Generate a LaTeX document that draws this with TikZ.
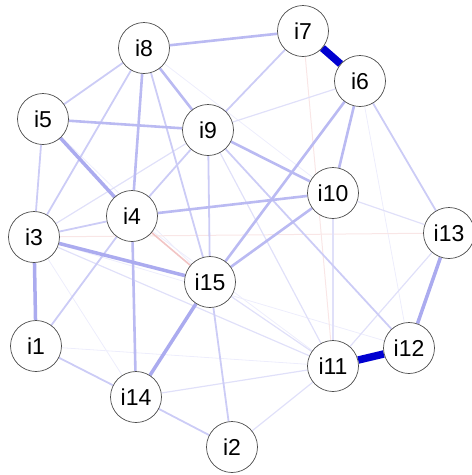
\documentclass[tikz,border=0pt]{standalone}
\usepackage{fontspec}
\setmainfont{Liberation Sans}
\usetikzlibrary{backgrounds}
\definecolor{posedge}{HTML}{0000D0}
\definecolor{negedge}{HTML}{D03030}

\begin{document}
\begin{tikzpicture}[x=1pt,y=-1pt,
  every node/.style={draw=black!70,circle,fill=white,line width=0.7pt,
    minimum size=51pt,inner sep=0pt,font=\fontsize{23}{26}\selectfont},
  vfaint/.style={draw=posedge!7,line width=0.8pt},
  faint/.style={draw=posedge!12,line width=1.2pt},
  light/.style={draw=posedge!20,line width=1.8pt},
  medium/.style={draw=posedge!27,line width=2.6pt},
  heavy/.style={draw=posedge!33,line width=3.5pt},
  strong/.style={draw=posedge,line width=7.5pt},
  negfaint/.style={draw=negedge!12,line width=1pt},
  neglight/.style={draw=negedge!28,line width=1.6pt}
]
\useasboundingbox (0,0) rectangle (472,475);
\node (i7) at (303,31) {i7};
\node (i6) at (360,81) {i6};
\node (i8) at (144,48) {i8};
\node (i5) at (43,119) {i5};
\node (i9) at (208,130) {i9};
\node (i10) at (333,193) {i10};
\node (i13) at (449,233) {i13};
\node (i3) at (34,237) {i3};
\node (i4) at (132,216) {i4};
\node (i15) at (210,282) {i15};
\node (i1) at (36,346) {i1};
\node (i12) at (409,348) {i12};
\node (i11) at (333,366) {i11};
\node (i14) at (136,397) {i14};
\node (i2) at (232,447) {i2};
\begin{scope}[on background layer]
% very weak ties
\draw[vfaint] (i3) -- (i14);
\draw[vfaint] (i6) -- (i12);
\draw[vfaint] (i5) -- (i15);
\draw[vfaint] (i8) -- (i10);
\draw[vfaint] (i4) -- (i11);
\draw[vfaint] (i1) -- (i11);
\draw[vfaint] (i3) -- (i12);
\draw[negfaint] (i7) -- (i11);
\draw[negfaint] (i3) -- (i13);
% weak ties
\draw[faint] (i9) -- (i11);
\draw[faint] (i10) -- (i13);
\draw[faint] (i11) -- (i13);
\draw[faint] (i11) -- (i2);
\draw[faint] (i11) -- (i14);
\draw[faint] (i15) -- (i11);
\draw[faint] (i3) -- (i11);
\draw[faint] (i9) -- (i3);
\draw[faint] (i9) -- (i6);
\draw[faint] (i10) -- (i11);
\draw[neglight] (i4) -- (i15);
% moderate ties
\draw[light] (i1) -- (i14);
\draw[light] (i14) -- (i2);
\draw[light] (i8) -- (i3);
\draw[light] (i8) -- (i15);
\draw[light] (i8) -- (i5);
\draw[light] (i5) -- (i3);
\draw[light] (i4) -- (i1);
\draw[light] (i3) -- (i4);
\draw[light] (i6) -- (i13);
\draw[light] (i7) -- (i9);
\draw[light] (i9) -- (i15);
\draw[light] (i9) -- (i4);
\draw[light] (i9) -- (i12);
\draw[light] (i15) -- (i2);
\draw[medium] (i8) -- (i7);
\draw[medium] (i5) -- (i9);
\draw[medium] (i8) -- (i9);
\draw[medium] (i4) -- (i14);
\draw[medium] (i6) -- (i10);
\draw[medium] (i4) -- (i10);
\draw[medium] (i9) -- (i10);
\draw[medium] (i6) -- (i15);
\draw[medium] (i10) -- (i15);
\draw[medium] (i8) -- (i4);
\draw[heavy] (i5) -- (i4);
\draw[heavy] (i3) -- (i15);
\draw[heavy] (i3) -- (i1);
\draw[heavy] (i15) -- (i14);
\draw[heavy] (i12) -- (i13);
% strongest ties
\draw[strong] (i7) -- (i6);
\draw[strong] (i11) -- (i12);
\end{scope}
\end{tikzpicture}
\end{document}
